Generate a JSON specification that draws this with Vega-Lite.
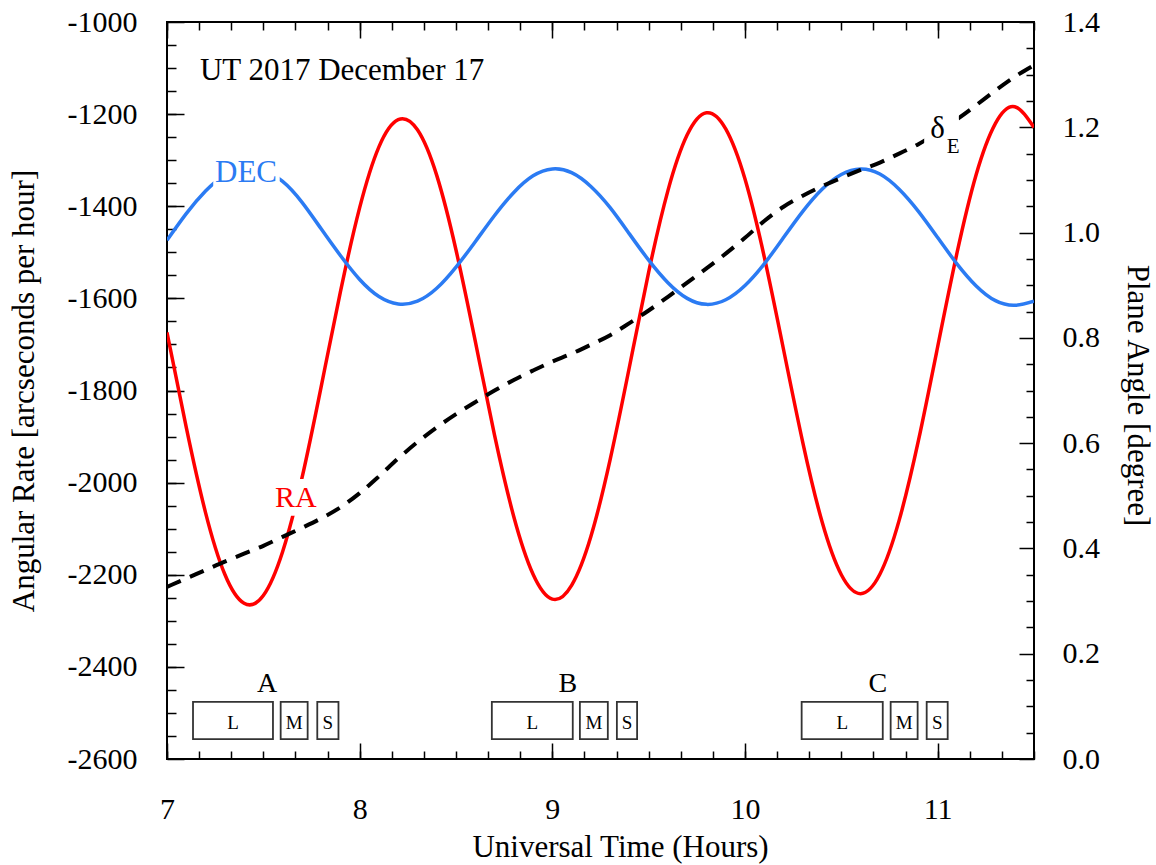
{
  "$schema": "https://vega.github.io/schema/vega-lite/v6.json",
  "autosize": "none",
  "width": 867,
  "height": 737,
  "padding": {"left": 167, "top": 22, "right": 122, "bottom": 106},
  "background": "white",
  "config": {
    "view": {"stroke": "#000", "strokeWidth": 2},
    "axis": {"grid": false, "domain": false, "labelFont": "Liberation Serif", "labelFontSize": 30, "labelColor": "#000", "titleFont": "Liberation Serif", "titleFontSize": 31, "titleFontWeight": "normal", "titleColor": "#000", "tickColor": "#000", "tickWidth": 1.5, "labelFlush": false, "labelOverlap": false, "zindex": 1},
    "text": {"font": "Liberation Serif"}
  },
  "datasets": {
    "curves": [
      {"t": 7.0, "ra": -1674, "dec": -1474, "de": 0.327},
      {"t": 7.1, "ra": -1880, "dec": -1416, "de": 0.343},
      {"t": 7.2, "ra": -2065, "dec": -1367, "de": 0.359},
      {"t": 7.3, "ra": -2199, "dec": -1332, "de": 0.375},
      {"t": 7.4, "ra": -2262, "dec": -1318, "de": 0.390},
      {"t": 7.5, "ra": -2245, "dec": -1323, "de": 0.405},
      {"t": 7.6, "ra": -2150, "dec": -1346, "de": 0.422},
      {"t": 7.7, "ra": -1991, "dec": -1391, "de": 0.439},
      {"t": 7.8, "ra": -1792, "dec": -1449, "de": 0.457},
      {"t": 7.9, "ra": -1586, "dec": -1507, "de": 0.478},
      {"t": 8.0, "ra": -1403, "dec": -1559, "de": 0.505},
      {"t": 8.1, "ra": -1271, "dec": -1596, "de": 0.537},
      {"t": 8.2, "ra": -1212, "dec": -1612, "de": 0.571},
      {"t": 8.3, "ra": -1234, "dec": -1606, "de": 0.602},
      {"t": 8.4, "ra": -1333, "dec": -1578, "de": 0.630},
      {"t": 8.5, "ra": -1495, "dec": -1532, "de": 0.655},
      {"t": 8.6, "ra": -1693, "dec": -1477, "de": 0.678},
      {"t": 8.7, "ra": -1897, "dec": -1420, "de": 0.700},
      {"t": 8.8, "ra": -2074, "dec": -1370, "de": 0.720},
      {"t": 8.9, "ra": -2199, "dec": -1334, "de": 0.738},
      {"t": 9.0, "ra": -2253, "dec": -1319, "de": 0.755},
      {"t": 9.1, "ra": -2223, "dec": -1327, "de": 0.770},
      {"t": 9.2, "ra": -2117, "dec": -1357, "de": 0.787},
      {"t": 9.3, "ra": -1950, "dec": -1403, "de": 0.805},
      {"t": 9.4, "ra": -1749, "dec": -1460, "de": 0.828},
      {"t": 9.5, "ra": -1543, "dec": -1517, "de": 0.852},
      {"t": 9.6, "ra": -1366, "dec": -1566, "de": 0.878},
      {"t": 9.7, "ra": -1245, "dec": -1600, "de": 0.905},
      {"t": 9.8, "ra": -1197, "dec": -1613, "de": 0.932},
      {"t": 9.9, "ra": -1232, "dec": -1603, "de": 0.960},
      {"t": 10.0, "ra": -1341, "dec": -1572, "de": 0.990},
      {"t": 10.1, "ra": -1510, "dec": -1525, "de": 1.022},
      {"t": 10.2, "ra": -1711, "dec": -1468, "de": 1.049},
      {"t": 10.3, "ra": -1913, "dec": -1411, "de": 1.070},
      {"t": 10.4, "ra": -2085, "dec": -1363, "de": 1.088},
      {"t": 10.5, "ra": -2200, "dec": -1331, "de": 1.104},
      {"t": 10.6, "ra": -2241, "dec": -1319, "de": 1.119},
      {"t": 10.7, "ra": -2199, "dec": -1330, "de": 1.133},
      {"t": 10.8, "ra": -2082, "dec": -1363, "de": 1.150},
      {"t": 10.9, "ra": -1909, "dec": -1411, "de": 1.168},
      {"t": 11.0, "ra": -1705, "dec": -1468, "de": 1.190},
      {"t": 11.1, "ra": -1502, "dec": -1525, "de": 1.215},
      {"t": 11.2, "ra": -1331, "dec": -1573, "de": 1.242},
      {"t": 11.3, "ra": -1220, "dec": -1605, "de": 1.270},
      {"t": 11.4, "ra": -1184, "dec": -1615, "de": 1.296},
      {"t": 11.5, "ra": -1229, "dec": -1606, "de": 1.318}
    ],
    "gaps": [
      {"t0": 7.24, "t1": 7.585, "v0": -1290, "v1": -1400},
      {"t0": 7.6, "t1": 7.78, "v0": -1992, "v1": -2072},
      {"t0": 10.93, "t1": 11.11, "v0": -1195, "v1": -1285}
    ],
    "ut": [{"t": 7.171, "v": -1126, "lab": "UT 2017 December 17"}],
    "declab": [{"t": 7.41, "v": -1347, "lab": "DEC"}],
    "ralab": [{"t": 7.669, "v": -2053, "lab": "RA"}],
    "abc": [
      {"t": 7.519, "v": -2455, "lab": "A"},
      {"t": 9.08, "v": -2455, "lab": "B"},
      {"t": 10.689, "v": -2455, "lab": "C"}
    ],
    "delta": [{"t": 11.0, "v": 1.1796, "lab": "δ"}],
    "esub": [{"t": 11.08, "v": 1.151, "lab": "E"}],
    "boxes": [
      {"t0": 7.135, "t1": 7.55, "v0": -2476, "v1": -2557},
      {"t0": 7.59, "t1": 7.73, "v0": -2476, "v1": -2557},
      {"t0": 7.78, "t1": 7.89, "v0": -2476, "v1": -2557},
      {"t0": 8.686, "t1": 9.106, "v0": -2476, "v1": -2557},
      {"t0": 9.143, "t1": 9.288, "v0": -2476, "v1": -2557},
      {"t0": 9.335, "t1": 9.44, "v0": -2476, "v1": -2557},
      {"t0": 10.294, "t1": 10.715, "v0": -2476, "v1": -2557},
      {"t0": 10.756, "t1": 10.896, "v0": -2476, "v1": -2557},
      {"t0": 10.943, "t1": 11.052, "v0": -2476, "v1": -2557}
    ],
    "boxlab": [
      {"t": 7.3425, "v": -2535, "lab": "L"},
      {"t": 7.66, "v": -2535, "lab": "M"},
      {"t": 7.835, "v": -2535, "lab": "S"},
      {"t": 8.896, "v": -2535, "lab": "L"},
      {"t": 9.2155, "v": -2535, "lab": "M"},
      {"t": 9.3875, "v": -2535, "lab": "S"},
      {"t": 10.5045, "v": -2535, "lab": "L"},
      {"t": 10.826, "v": -2535, "lab": "M"},
      {"t": 10.9975, "v": -2535, "lab": "S"}
    ]
  },
  "resolve": {"scale": {"y": "independent"}, "axis": {"x": "independent", "y": "independent"}},
  "layer": [
    {
      "data": {"name": "curves"},
      "mark": {"type": "line", "color": "#ff0000", "strokeWidth": 3.5, "interpolate": "natural", "clip": true},
      "encoding": {
        "x": {"field": "t", "type": "quantitative", "scale": {"domain": [7, 11.5], "nice": false, "zero": false},
          "axis": {"orient": "bottom", "values": [7, 8, 9, 10, 11], "ticks": false, "labelPadding": 35, "title": "Universal Time (Hours)", "titleX": 453, "titleY": 97, "titleBaseline": "alphabetic", "titleAlign": "center", "titleAnchor": null}},
        "y": {"field": "ra", "type": "quantitative", "scale": {"domain": [-2600, -1000], "nice": false, "zero": false},
          "axis": {"orient": "left", "values": [-2600, -2400, -2200, -2000, -1800, -1600, -1400, -1200, -1000], "ticks": false, "labelPadding": 30, "labelExpr": "datum.value + ''", "title": "Angular Rate [arcseconds per hour]", "titleX": -134, "titleY": 368.5, "titleAngle": -90, "titleBaseline": "alphabetic", "titleAlign": "center", "titleAnchor": null}}
      }
    },
    {
      "data": {"name": "curves"},
      "mark": {"type": "line", "color": "#2b7bf3", "strokeWidth": 3.5, "interpolate": "natural", "clip": true},
      "encoding": {
        "x": {"field": "t", "type": "quantitative", "scale": {"domain": [7, 11.5], "nice": false, "zero": false},
          "axis": {"orient": "bottom", "values": [7, 8, 9, 10, 11], "tickSize": -16, "labels": false, "title": null}},
        "y": {"field": "dec", "type": "quantitative", "scale": {"domain": [-2600, -1000], "nice": false, "zero": false},
          "axis": {"orient": "left", "values": [-2600, -2400, -2200, -2000, -1800, -1600, -1400, -1200, -1000], "tickSize": -17, "labels": false, "title": null}}
      }
    },
    {
      "data": {"name": "curves"},
      "mark": {"type": "line", "color": "#000", "strokeWidth": 4, "strokeDash": [15, 10], "interpolate": "monotone", "clip": true},
      "encoding": {
        "x": {"field": "t", "type": "quantitative", "scale": {"domain": [7, 11.5], "nice": false, "zero": false}, "axis": null},
        "y": {"field": "de", "type": "quantitative", "scale": {"domain": [0, 1.4], "nice": false, "zero": false},
          "axis": {"orient": "right", "values": [0, 0.2, 0.4, 0.6, 0.8, 1.0, 1.2, 1.4], "ticks": false, "labelPadding": 28, "format": ".1f", "title": "Plane Angle [degree]", "titleX": 93, "titleY": 373, "titleAngle": 90, "titleBaseline": "alphabetic", "titleAlign": "center", "titleAnchor": null}}
      }
    },
    {
      "data": {"name": "gaps"},
      "mark": {"type": "rect", "fill": "white", "stroke": null},
      "encoding": {
        "x": {"field": "t0", "type": "quantitative", "scale": {"domain": [7, 11.5], "nice": false, "zero": false},
          "axis": {"orient": "bottom", "values": [7, 7.16667, 7.33333, 7.5, 7.66667, 7.83333, 8, 8.16667, 8.33333, 8.5, 8.66667, 8.83333, 9, 9.16667, 9.33333, 9.5, 9.66667, 9.83333, 10, 10.16667, 10.33333, 10.5, 10.66667, 10.83333, 11, 11.16667, 11.33333, 11.5], "tickSize": -8, "labels": false, "title": null}},
        "x2": {"field": "t1"},
        "y": {"field": "v0", "type": "quantitative", "scale": {"domain": [-2600, -1000], "nice": false, "zero": false},
          "axis": {"orient": "left", "values": [-2550, -2500, -2450, -2400, -2350, -2300, -2250, -2200, -2150, -2100, -2050, -2000, -1950, -1900, -1850, -1800, -1750, -1700, -1650, -1600, -1550, -1500, -1450, -1400, -1350, -1300, -1250, -1200, -1150, -1100, -1050], "tickSize": -9, "labels": false, "title": null}},
        "y2": {"field": "v1"}
      }
    },
    {
      "data": {"name": "ut"},
      "mark": {"type": "text", "fontSize": 31, "color": "#000", "align": "left", "baseline": "alphabetic"},
      "encoding": {
        "x": {"field": "t", "type": "quantitative", "scale": {"domain": [7, 11.5], "nice": false, "zero": false},
          "axis": {"orient": "top", "values": [7, 8, 9, 10, 11], "tickSize": -16, "labels": false, "title": null}},
        "y": {"field": "v", "type": "quantitative", "scale": {"domain": [-2600, -1000], "nice": false, "zero": false}, "axis": null},
        "text": {"field": "lab"}
      }
    },
    {
      "data": {"name": "declab"},
      "mark": {"type": "text", "fontSize": 31, "color": "#2b7bf3", "align": "center", "baseline": "alphabetic"},
      "encoding": {
        "x": {"field": "t", "type": "quantitative", "scale": {"domain": [7, 11.5], "nice": false, "zero": false},
          "axis": {"orient": "top", "values": [7, 7.16667, 7.33333, 7.5, 7.66667, 7.83333, 8, 8.16667, 8.33333, 8.5, 8.66667, 8.83333, 9, 9.16667, 9.33333, 9.5, 9.66667, 9.83333, 10, 10.16667, 10.33333, 10.5, 10.66667, 10.83333, 11, 11.16667, 11.33333, 11.5], "tickSize": -8, "labels": false, "title": null}},
        "y": {"field": "v", "type": "quantitative", "scale": {"domain": [-2600, -1000], "nice": false, "zero": false}, "axis": null},
        "text": {"field": "lab"}
      }
    },
    {
      "data": {"name": "ralab"},
      "mark": {"type": "text", "fontSize": 30, "color": "#ff0000", "align": "center", "baseline": "alphabetic"},
      "encoding": {
        "x": {"field": "t", "type": "quantitative", "scale": {"domain": [7, 11.5], "nice": false, "zero": false}, "axis": null},
        "y": {"field": "v", "type": "quantitative", "scale": {"domain": [-2600, -1000], "nice": false, "zero": false}, "axis": null},
        "text": {"field": "lab"}
      }
    },
    {
      "data": {"name": "abc"},
      "mark": {"type": "text", "fontSize": 28, "color": "#000", "align": "center", "baseline": "alphabetic"},
      "encoding": {
        "x": {"field": "t", "type": "quantitative", "scale": {"domain": [7, 11.5], "nice": false, "zero": false}, "axis": null},
        "y": {"field": "v", "type": "quantitative", "scale": {"domain": [-2600, -1000], "nice": false, "zero": false}, "axis": null},
        "text": {"field": "lab"}
      }
    },
    {
      "data": {"name": "delta"},
      "mark": {"type": "text", "fontSize": 31, "color": "#000", "align": "center", "baseline": "alphabetic"},
      "encoding": {
        "x": {"field": "t", "type": "quantitative", "scale": {"domain": [7, 11.5], "nice": false, "zero": false}, "axis": null},
        "y": {"field": "v", "type": "quantitative", "scale": {"domain": [0, 1.4], "nice": false, "zero": false},
          "axis": {"orient": "right", "values": [0, 0.2, 0.4, 0.6, 0.8, 1.0, 1.2, 1.4], "tickSize": -15, "labels": false, "title": null}},
        "text": {"field": "lab"}
      }
    },
    {
      "data": {"name": "esub"},
      "mark": {"type": "text", "fontSize": 21, "color": "#000", "align": "center", "baseline": "alphabetic"},
      "encoding": {
        "x": {"field": "t", "type": "quantitative", "scale": {"domain": [7, 11.5], "nice": false, "zero": false}, "axis": null},
        "y": {"field": "v", "type": "quantitative", "scale": {"domain": [0, 1.4], "nice": false, "zero": false},
          "axis": {"orient": "right", "values": [0.05, 0.1, 0.15, 0.25, 0.3, 0.35, 0.45, 0.5, 0.55, 0.65, 0.7, 0.75, 0.85, 0.9, 0.95, 1.05, 1.1, 1.15, 1.25, 1.3, 1.35], "tickSize": -8, "labels": false, "title": null}},
        "text": {"field": "lab"}
      }
    },
    {
      "data": {"name": "boxes"},
      "mark": {"type": "rect", "fill": "white", "stroke": "#333", "strokeWidth": 1.8},
      "encoding": {
        "x": {"field": "t0", "type": "quantitative", "scale": {"domain": [7, 11.5], "nice": false, "zero": false}, "axis": null},
        "x2": {"field": "t1"},
        "y": {"field": "v0", "type": "quantitative", "scale": {"domain": [-2600, -1000], "nice": false, "zero": false}, "axis": null},
        "y2": {"field": "v1"}
      }
    },
    {
      "data": {"name": "boxlab"},
      "mark": {"type": "text", "fontSize": 19, "color": "#000", "align": "center", "baseline": "alphabetic"},
      "encoding": {
        "x": {"field": "t", "type": "quantitative", "scale": {"domain": [7, 11.5], "nice": false, "zero": false}, "axis": null},
        "y": {"field": "v", "type": "quantitative", "scale": {"domain": [-2600, -1000], "nice": false, "zero": false}, "axis": null},
        "text": {"field": "lab"}
      }
    }
  ]
}
